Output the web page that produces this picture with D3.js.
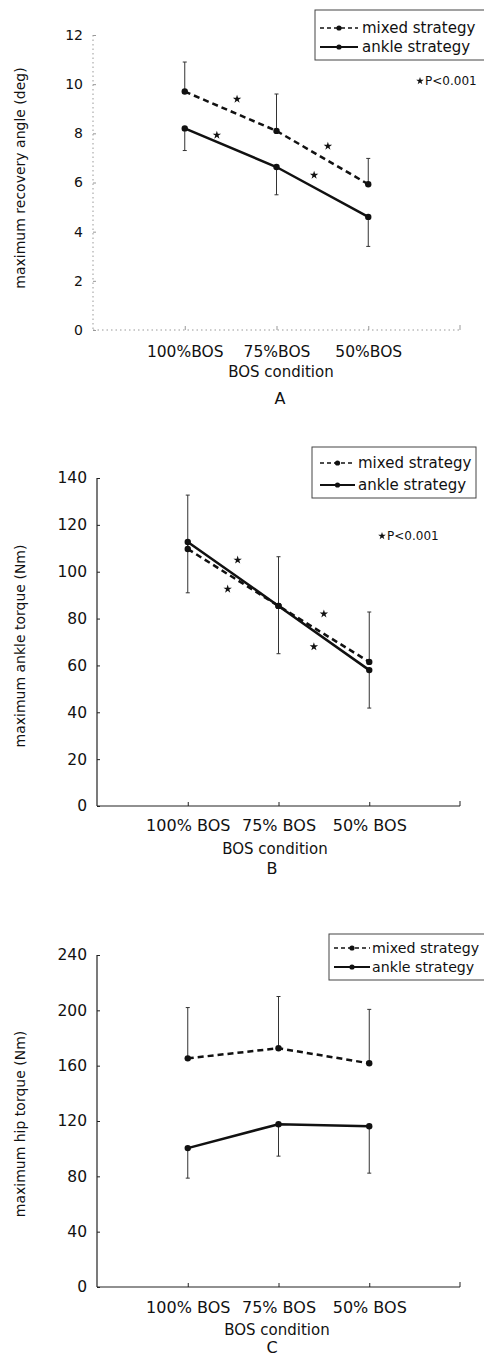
<!DOCTYPE html>
<html><head><meta charset="utf-8">
<script src="https://cdn.jsdelivr.net/npm/d3@7"></script>
<style>
body{margin:0;background:#fff;}
svg{display:block;font-family:"DejaVu Sans",sans-serif;}
</style></head>
<body>
<svg id="chart" width="484" height="1357"></svg>
<script>
// ---------- DATA ----------
const seriesNames = ["mixed strategy", "ankle strategy"];
const categoriesA = ["100%BOS", "75%BOS", "50%BOS"];
const categoriesBC = ["100% BOS", "75% BOS", "50% BOS"];

// Panel A: maximum recovery angle (deg)
const mixedA = [9.7, 8.1, 5.93];
const mixedA_sd = [1.2, 1.5, 1.05];     // drawn upward
const ankleA = [8.2, 6.63, 4.6];
const ankleA_sd = [0.9, 1.13, 1.2];     // drawn downward
const ticksA = [0, 2, 4, 6, 8, 10, 12];
const starsA = [[0.35, 7.93], [0.57, 9.39], [1.41, 6.3], [1.56, 7.48]]; // [category index, value]

// Panel B: maximum ankle torque (Nm)
const mixedB = [109.7, 85.4, 61.5];
const mixedB_sd = [23.0, 21.0, 21.3];
const ankleB = [112.7, 85.4, 58.0];
const ankleB_sd = [21.7, 20.4, 16.2];
const ticksB = [0, 20, 40, 60, 80, 100, 120, 140];
const starsB = [[0.44, 92.6], [0.55, 105], [1.39, 68], [1.50, 82]];

// Panel C: maximum hip torque (Nm)
const mixedC = [165.3, 172.6, 161.7];
const mixedC_sd = [36.7, 37.4, 39.0];
const ankleC = [100.4, 117.7, 116.2];
const ankleC_sd = [21.7, 23.1, 33.9];
const ticksC = [0, 40, 80, 120, 160, 200, 240];
const starsC = [];

const yTitles = ["maximum recovery angle (deg)", "maximum ankle torque (Nm)", "maximum hip torque (Nm)"];
const xTitle = "BOS condition";
const panelLetters = ["A", "B", "C"];
const pNote = "P<0.001";

// ---------- LAYOUT ----------
const svg = d3.select("#chart");
const ink = "#111";

const panels = [
  {cats: categoriesA, mixed: mixedA, mixedSd: mixedA_sd, ankle: ankleA, ankleSd: ankleA_sd, ticks: ticksA, stars: starsA,
   title: yTitles[0], letter: panelLetters[0],
   left: 93, right: 460, top: 35, bottom: 330, faint: true, tickFont: 14, catFont: 15.5,
   catDy: 16, xTitleY: 372, letterY: 398, xTitleX: 281, letterX: 280, yTitleY: 178,
   legend: {x: 315, y: 10, w: 180, h: 50, lx: 320, l2: 358, ty1: 28, ty2: 47, tx: 362, fs: 15},
   note: {x: 418, y: 81}},
  {cats: categoriesBC, mixed: mixedB, mixedSd: mixedB_sd, ankle: ankleB, ankleSd: ankleB_sd, ticks: ticksB, stars: starsB,
   title: yTitles[1], letter: panelLetters[1],
   left: 97, right: 460, top: 478, bottom: 806, faint: false, tickFont: 15.5, catFont: 16,
   catDy: 14, xTitleY: 849, letterY: 868, xTitleX: 275, letterX: 272, yTitleY: 646,
   legend: {x: 312, y: 447, w: 164, h: 51, lx: 320, l2: 355, ty1: 463, ty2: 485, tx: 358, fs: 15},
   note: {x: 380, y: 536}},
  {cats: categoriesBC, mixed: mixedC, mixedSd: mixedC_sd, ankle: ankleC, ankleSd: ankleC_sd, ticks: ticksC, stars: starsC,
   title: yTitles[2], letter: panelLetters[2],
   left: 97, right: 460, top: 955, bottom: 1287, faint: false, tickFont: 15.5, catFont: 16,
   catDy: 15, xTitleY: 1330, letterY: 1347, xTitleX: 277, letterX: 272, yTitleY: 1124,
   legend: {x: 329, y: 934, w: 170, h: 46, lx: 334, l2: 370, ty1: 948, ty2: 967, tx: 372, fs: 14.2},
   note: null}
];

panels.forEach(p => {
  const g = svg.append("g");
  const yMax = d3.max(p.ticks);
  const x = d3.scalePoint().domain(p.cats).range([p.left, p.right]).padding(1);
  const y = d3.scaleLinear().domain([0, yMax]).range([p.bottom, p.top]);
  const xi = d3.scaleLinear().domain([0, p.cats.length - 1]).range([x(p.cats[0]), x(p.cats[p.cats.length - 1])]);
  const axisColor = p.faint ? "#999" : "#222";
  const axisDash = p.faint ? "1.5,3" : null;

  // y axis
  const ya = g.append("g").attr("transform", `translate(${p.left},0)`)
    .call(d3.axisLeft(y).tickValues(p.ticks).tickSize(-3).tickPadding(10).tickFormat(d3.format("d")));
  ya.select(".domain").attr("stroke", axisColor).attr("stroke-width", p.faint ? 1 : 1.2).attr("stroke-dasharray", axisDash)
    .attr("d", `M0,${y(yMax)}V${y(0)}`);
  ya.selectAll(".tick line").attr("stroke", axisColor);
  ya.selectAll(".tick text").attr("font-size", p.tickFont).attr("fill", ink).attr("font-family", "DejaVu Sans");

  // x axis
  const xa = g.append("g").attr("transform", `translate(0,${p.bottom})`)
    .call(d3.axisBottom(x).tickSize(-4).tickPadding(p.catDy));
  xa.select(".domain").attr("stroke", axisColor).attr("stroke-width", p.faint ? 1 : 1.2).attr("stroke-dasharray", axisDash)
    .attr("d", `M${p.left},0H${p.right}`);
  xa.selectAll(".tick line").attr("stroke", axisColor).attr("y1", 0).attr("y2", -4);
  xa.selectAll(".tick text").attr("font-size", p.catFont).attr("fill", ink).attr("font-family", "DejaVu Sans");
  // right-end tick
  xa.append("line").attr("x1", p.right).attr("x2", p.right).attr("y1", 0).attr("y2", -5).attr("stroke", axisColor);

  // error bars
  const bars = [];
  p.cats.forEach((c, i) => {
    bars.push({c, from: p.mixed[i], to: p.mixed[i] + p.mixedSd[i]});
    bars.push({c, from: p.ankle[i], to: p.ankle[i] - p.ankleSd[i]});
  });
  const eb = g.append("g").selectAll("g").data(bars).join("g");
  eb.append("line").attr("x1", d => x(d.c)).attr("x2", d => x(d.c))
    .attr("y1", d => y(d.from)).attr("y2", d => y(d.to)).attr("stroke", "#333").attr("stroke-width", 1);
  eb.append("line").attr("x1", d => x(d.c) - 2).attr("x2", d => x(d.c) + 2)
    .attr("y1", d => y(d.to)).attr("y2", d => y(d.to)).attr("stroke", "#333").attr("stroke-width", 1);

  // lines
  const line = d3.line().x((d, i) => x(p.cats[i])).y(d => y(d));
  g.append("path").datum(p.mixed).attr("d", line).attr("fill", "none").attr("stroke", ink)
    .attr("stroke-width", 2.5).attr("stroke-dasharray", "6,4");
  g.append("path").datum(p.ankle).attr("d", line).attr("fill", "none").attr("stroke", ink)
    .attr("stroke-width", 2.5);
  [p.mixed, p.ankle].forEach(s => {
    g.append("g").selectAll("circle").data(s).join("circle")
      .attr("cx", (d, i) => x(p.cats[i])).attr("cy", d => y(d)).attr("r", 3.2).attr("fill", ink);
  });

  // stars
  g.append("g").selectAll("path").data(p.stars).join("path")
    .attr("transform", d => `translate(${xi(d[0])},${y(d[1])})`)
    .attr("d", d3.symbol(d3.symbolStar).size(22)).attr("fill", ink);

  // legend
  const L = p.legend;
  g.append("rect").attr("x", L.x).attr("y", L.y).attr("width", L.w).attr("height", L.h)
    .attr("fill", "none").attr("stroke", "#444").attr("stroke-width", 1);
  const lg = [{t: seriesNames[0], y: L.ty1, dash: "4,3", w: 1.6}, {t: seriesNames[1], y: L.ty2, dash: null, w: 2}];
  lg.forEach(e => {
    g.append("line").attr("x1", L.lx).attr("x2", L.l2).attr("y1", e.y).attr("y2", e.y)
      .attr("stroke", ink).attr("stroke-width", e.w).attr("stroke-dasharray", e.dash);
    g.append("circle").attr("cx", (L.lx + L.l2) / 2).attr("cy", e.y).attr("r", 2.6).attr("fill", ink);
    g.append("text").attr("x", L.tx).attr("y", e.y).attr("dy", "0.35em").attr("font-size", L.fs).attr("fill", ink).text(e.t);
  });

  // significance note
  if (p.note) {
    g.append("path").attr("transform", `translate(${p.note.x + 2},${p.note.y})`)
      .attr("d", d3.symbol(d3.symbolStar).size(18)).attr("fill", ink);
    g.append("text").attr("x", p.note.x + 7).attr("y", p.note.y).attr("dy", "0.35em")
      .attr("font-size", 12).attr("fill", ink).text(pNote);
  }

  // titles
  g.append("text").attr("transform", `translate(20,${p.yTitleY}) rotate(-90)`).attr("text-anchor", "middle")
    .attr("dy", "0.35em").attr("font-size", 14).attr("fill", ink).text(p.title);
  g.append("text").attr("x", p.xTitleX).attr("y", p.xTitleY).attr("dy", "0.35em").attr("text-anchor", "middle")
    .attr("font-size", 15).attr("fill", ink).text(xTitle);
  g.append("text").attr("x", p.letterX).attr("y", p.letterY).attr("dy", "0.35em").attr("text-anchor", "middle")
    .attr("font-size", 16).attr("fill", ink).text(p.letter);
});
</script>
</body></html>
